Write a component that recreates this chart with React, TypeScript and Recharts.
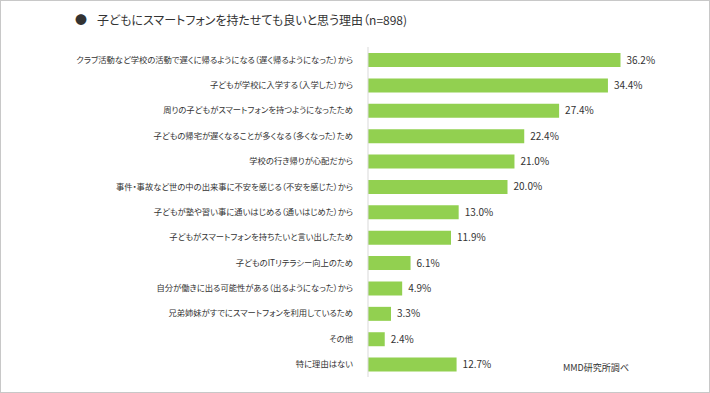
import { Bar, BarChart, LabelList, XAxis, YAxis } from "recharts";

const reasons = [
  "クラブ活動など学校の活動で遅くに帰るようになる（遅く帰るようになった）から",
  "子どもが学校に入学する（入学した）から",
  "周りの子どもがスマートフォンを持つようになったため",
  "子どもの帰宅が遅くなることが多くなる（多くなった）ため",
  "学校の行き帰りが心配だから",
  "事件・事故など世の中の出来事に不安を感じる（不安を感じた）から",
  "子どもが塾や習い事に通いはじめる（通いはじめた）から",
  "子どもがスマートフォンを持ちたいと言い出したため",
  "子どものITリテラシー向上のため",
  "自分が働きに出る可能性がある（出るようになった）から",
  "兄弟姉妹がすでにスマートフォンを利用しているため",
  "その他",
  "特に理由はない",
];

const shares = [36.2, 34.4, 27.4, 22.4, 21.0, 20.0, 13.0, 11.9, 6.1, 4.9, 3.3, 2.4, 12.7];

const data = reasons.map((reason, i) => ({ reason, share: shares[i] }));

const FONT = '"Noto Sans CJK JP", "Noto Sans", sans-serif';
const TEXT = "#333333";

export default function App() {
  return (
    <div
      style={{
        position: "absolute",
        left: 0,
        top: 0,
        width: 710,
        height: 393,
        boxSizing: "border-box",
        border: "1px solid #c8c8c8",
        background: "#ffffff",
        fontFamily: FONT,
        fontFeatureSettings: "'palt'",
        color: TEXT,
      }}
    >
      <div style={{ position: "absolute", left: 74, top: 10, fontSize: 12, whiteSpace: "nowrap" }}>
        <span style={{ marginRight: 10 }}>●</span>子どもにスマートフォンを持たせても良いと思う理由（n=898)
      </div>
      <div style={{ position: "absolute", left: 562, top: 360, fontSize: 9, whiteSpace: "nowrap" }}>
        MMD研究所調べ
      </div>
      <BarChart
        width={708}
        height={391}
        data={data}
        layout="vertical"
        margin={{ top: 46, right: 62, bottom: 15, left: 0 }}
        style={{ position: "absolute", left: 0, top: 0 }}
      >
        <XAxis type="number" domain={[0, 40]} hide />
        <YAxis
          type="category"
          dataKey="reason"
          width={367}
          tickLine={false}
          axisLine={{ stroke: "#d9d9d9" }}
          tickMargin={9}
          interval={0}
          tick={{ fontSize: 8.3, fill: TEXT, fontFamily: FONT, style: { fontFeatureSettings: "'palt'" } }}
        />
        <Bar dataKey="share" fill="#92d050" barSize={14} isAnimationActive={false}>
          <LabelList
            dataKey="share"
            position="right"
            offset={6}
            formatter={(v: number) => `${v.toFixed(1)}%`}
            style={{ fontSize: 10, fill: TEXT, fontFamily: FONT }}
          />
        </Bar>
      </BarChart>
    </div>
  );
}
